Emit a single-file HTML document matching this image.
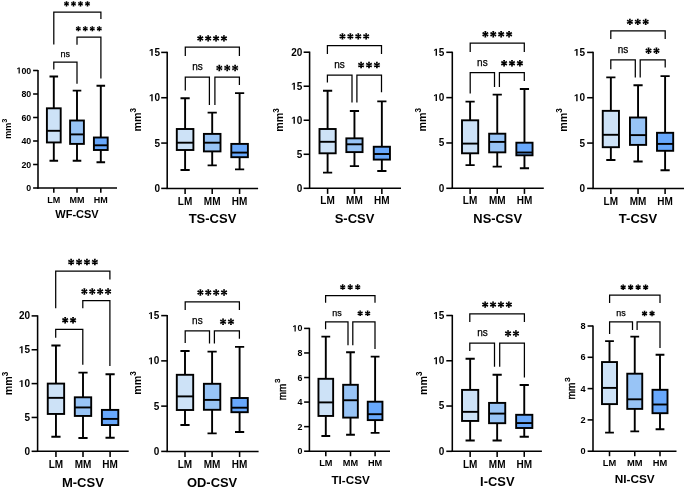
<!DOCTYPE html>
<html><head><meta charset="utf-8"><style>
html,body{margin:0;padding:0;background:#fff;}
svg{display:block;font-family:"Liberation Sans",sans-serif;will-change:transform;}
</style></head><body>
<svg width="685" height="488" viewBox="0 0 685 488">
<rect width="685" height="488" fill="#fff"/>
<path d="M38 69.9V188.7" stroke="#000" stroke-width="1.55" fill="none"/>
<path d="M37.3 188H117" stroke="#000" stroke-width="1.55" fill="none"/>
<path d="M33.1 188H38" stroke="#000" stroke-width="1.55"/>
<text x="26.31" y="191.04" font-size="8.8" font-weight="bold">0</text>
<path d="M33.1 164.5H38" stroke="#000" stroke-width="1.55"/>
<text x="21.41" y="167.54" font-size="8.8" font-weight="bold">2</text><text x="26.31" y="167.54" font-size="8.8" font-weight="bold">0</text>
<path d="M33.1 141H38" stroke="#000" stroke-width="1.55"/>
<text x="21.41" y="144.04" font-size="8.8" font-weight="bold">4</text><text x="26.31" y="144.04" font-size="8.8" font-weight="bold">0</text>
<path d="M33.1 117.5H38" stroke="#000" stroke-width="1.55"/>
<text x="21.41" y="120.54" font-size="8.8" font-weight="bold">6</text><text x="26.31" y="120.54" font-size="8.8" font-weight="bold">0</text>
<path d="M33.1 94H38" stroke="#000" stroke-width="1.55"/>
<text x="21.41" y="97.04" font-size="8.8" font-weight="bold">8</text><text x="26.31" y="97.04" font-size="8.8" font-weight="bold">0</text>
<path d="M33.1 70.5H38" stroke="#000" stroke-width="1.55"/>
<polygon points="18.57,73.54 19.78,73.54 19.78,67.48 18.64,67.48 17.12,68.47 17.12,69.42 18.57,68.51" fill="#000"/><text x="21.41" y="73.54" font-size="8.8" font-weight="bold">0</text><text x="26.31" y="73.54" font-size="8.8" font-weight="bold">0</text>
<path d="M53.8 188V192.7" stroke="#000" stroke-width="1.55"/>
<text x="53.8" y="202.5" font-size="9" font-weight="bold" text-anchor="middle">LM</text>
<path d="M77 188V192.7" stroke="#000" stroke-width="1.55"/>
<text x="77" y="202.5" font-size="9" font-weight="bold" text-anchor="middle">MM</text>
<path d="M100.8 188V192.7" stroke="#000" stroke-width="1.55"/>
<text x="100.8" y="202.5" font-size="9" font-weight="bold" text-anchor="middle">HM</text>
<path d="M53.8 76.5V108.3M53.8 142.45V160.7M49.5 76.5H58.1M49.5 160.7H58.1" stroke="#000" stroke-width="1.9" fill="none"/>
<rect x="46.9" y="108.3" width="13.8" height="34.15" fill="#cde2f7" stroke="#000" stroke-width="1.9"/>
<path d="M46.9 130.8H60.7" stroke="#000" stroke-width="1.9"/>
<path d="M77 90.6V120.5M77 143.9V160.7M72.7 90.6H81.3M72.7 160.7H81.3" stroke="#000" stroke-width="1.9" fill="none"/>
<rect x="70.1" y="120.5" width="13.8" height="23.4" fill="#98c4f6" stroke="#000" stroke-width="1.9"/>
<path d="M70.1 134.4H83.9" stroke="#000" stroke-width="1.9"/>
<path d="M100.8 85.8V137.5M100.8 150V162.2M96.5 85.8H105.1M96.5 162.2H105.1" stroke="#000" stroke-width="1.9" fill="none"/>
<rect x="93.9" y="137.5" width="13.8" height="12.5" fill="#68a8fc" stroke="#000" stroke-width="1.9"/>
<path d="M93.9 145.3H107.7" stroke="#000" stroke-width="1.9"/>
<path d="M53.8 44.6V12H100.9V18.9" stroke="#000" stroke-width="1.25" fill="none"/>
<path d="M66.84 3.85L67.36 1.3L65.64 1.3L66.16 3.85ZM66.67 3.56L64.72 1.83L63.86 3.32L66.33 4.14ZM66.33 3.56L63.86 4.38L64.72 5.87L66.67 4.14ZM66.16 3.85L65.64 6.4L67.36 6.4L66.84 3.85ZM66.33 4.14L68.28 5.87L69.14 4.38L66.67 3.56ZM66.67 4.14L69.14 3.32L68.28 1.83L66.33 3.56ZM73.84 3.85L74.36 1.3L72.64 1.3L73.16 3.85ZM73.67 3.56L71.72 1.83L70.86 3.32L73.33 4.14ZM73.33 3.56L70.86 4.38L71.72 5.87L73.67 4.14ZM73.16 3.85L72.64 6.4L74.36 6.4L73.84 3.85ZM73.33 4.14L75.28 5.87L76.14 4.38L73.67 3.56ZM73.67 4.14L76.14 3.32L75.28 1.83L73.33 3.56ZM80.84 3.85L81.36 1.3L79.64 1.3L80.16 3.85ZM80.67 3.56L78.72 1.83L77.86 3.32L80.33 4.14ZM80.33 3.56L77.86 4.38L78.72 5.87L80.67 4.14ZM80.16 3.85L79.64 6.4L81.36 6.4L80.84 3.85ZM80.33 4.14L82.28 5.87L83.14 4.38L80.67 3.56ZM80.67 4.14L83.14 3.32L82.28 1.83L80.33 3.56ZM87.84 3.85L88.36 1.3L86.64 1.3L87.16 3.85ZM87.67 3.56L85.72 1.83L84.86 3.32L87.33 4.14ZM87.33 3.56L84.86 4.38L85.72 5.87L87.67 4.14ZM87.16 3.85L86.64 6.4L88.36 6.4L87.84 3.85ZM87.33 4.14L89.28 5.87L90.14 4.38L87.67 3.56ZM87.67 4.14L90.14 3.32L89.28 1.83L87.33 3.56Z" fill="#000"/>
<path d="M77 44.7V37.2H100.9V78.6" stroke="#000" stroke-width="1.25" fill="none"/>
<path d="M78.64 28.7L79.16 26.15L77.44 26.15L77.96 28.7ZM78.47 28.41L76.52 26.68L75.66 28.17L78.13 28.99ZM78.13 28.41L75.66 29.23L76.52 30.72L78.47 28.99ZM77.96 28.7L77.44 31.25L79.16 31.25L78.64 28.7ZM78.13 28.99L80.08 30.72L80.94 29.23L78.47 28.41ZM78.47 28.99L80.94 28.17L80.08 26.68L78.13 28.41ZM85.64 28.7L86.16 26.15L84.44 26.15L84.96 28.7ZM85.47 28.41L83.52 26.68L82.66 28.17L85.13 28.99ZM85.13 28.41L82.66 29.23L83.52 30.72L85.47 28.99ZM84.96 28.7L84.44 31.25L86.16 31.25L85.64 28.7ZM85.13 28.99L87.08 30.72L87.94 29.23L85.47 28.41ZM85.47 28.99L87.94 28.17L87.08 26.68L85.13 28.41ZM92.64 28.7L93.16 26.15L91.44 26.15L91.96 28.7ZM92.47 28.41L90.52 26.68L89.66 28.17L92.13 28.99ZM92.13 28.41L89.66 29.23L90.52 30.72L92.47 28.99ZM91.96 28.7L91.44 31.25L93.16 31.25L92.64 28.7ZM92.13 28.99L94.08 30.72L94.94 29.23L92.47 28.41ZM92.47 28.99L94.94 28.17L94.08 26.68L92.13 28.41ZM99.64 28.7L100.16 26.15L98.44 26.15L98.96 28.7ZM99.47 28.41L97.52 26.68L96.66 28.17L99.13 28.99ZM99.13 28.41L96.66 29.23L97.52 30.72L99.47 28.99ZM98.96 28.7L98.44 31.25L100.16 31.25L99.64 28.7ZM99.13 28.99L101.08 30.72L101.94 29.23L99.47 28.41ZM99.47 28.99L101.94 28.17L101.08 26.68L99.13 28.41Z" fill="#000"/>
<path d="M53.8 69.5V62.1H77V83.7" stroke="#000" stroke-width="1.25" fill="none"/>
<text x="65.3" y="56.5" font-size="9" text-anchor="middle" stroke="#000" stroke-width="0.25">ns</text>
<text x="77" y="218.3" font-size="11" font-weight="bold" text-anchor="middle">WF-CSV</text>
<text transform="translate(10.7 128.75) rotate(-90)" font-size="9" font-weight="bold" text-anchor="middle">mm<tspan font-size="7.3" dx="0" dy="-3.9">3</tspan></text>
<path d="M167.2 51.8V189.1" stroke="#000" stroke-width="1.55" fill="none"/>
<path d="M166.5 188.4H258.1" stroke="#000" stroke-width="1.55" fill="none"/>
<path d="M161.2 188.4H167.2" stroke="#000" stroke-width="1.55"/>
<text x="154.54" y="191.85" font-size="10" font-weight="bold">0</text>
<path d="M161.2 143.07H167.2" stroke="#000" stroke-width="1.55"/>
<text x="154.54" y="146.52" font-size="10" font-weight="bold">5</text>
<path d="M161.2 97.73H167.2" stroke="#000" stroke-width="1.55"/>
<polygon points="151.31,101.18 152.68,101.18 152.68,94.3 151.38,94.3 149.66,95.42 149.66,96.5 151.31,95.47" fill="#000"/><text x="154.54" y="101.18" font-size="10" font-weight="bold">0</text>
<path d="M161.2 52.4H167.2" stroke="#000" stroke-width="1.55"/>
<polygon points="151.31,55.85 152.68,55.85 152.68,48.97 151.38,48.97 149.66,50.09 149.66,51.17 151.31,50.14" fill="#000"/><text x="154.54" y="55.85" font-size="10" font-weight="bold">5</text>
<path d="M185.1 188.4V194" stroke="#000" stroke-width="1.55"/>
<text x="185.1" y="204.5" font-size="10" font-weight="bold" text-anchor="middle">LM</text>
<path d="M212.2 188.4V194" stroke="#000" stroke-width="1.55"/>
<text x="212.2" y="204.5" font-size="10" font-weight="bold" text-anchor="middle">MM</text>
<path d="M239.6 188.4V194" stroke="#000" stroke-width="1.55"/>
<text x="239.6" y="204.5" font-size="10" font-weight="bold" text-anchor="middle">HM</text>
<path d="M185.1 98.2V129M185.1 150V170M180.5 98.2H189.7M180.5 170H189.7" stroke="#000" stroke-width="1.9" fill="none"/>
<rect x="176.8" y="129" width="16.6" height="21" fill="#cde2f7" stroke="#000" stroke-width="1.9"/>
<path d="M176.8 142.7H193.4" stroke="#000" stroke-width="1.9"/>
<path d="M212.2 112.6V133.9M212.2 151.4V165.4M207.6 112.6H216.8M207.6 165.4H216.8" stroke="#000" stroke-width="1.9" fill="none"/>
<rect x="203.9" y="133.9" width="16.6" height="17.5" fill="#98c4f6" stroke="#000" stroke-width="1.9"/>
<path d="M203.9 142.7H220.5" stroke="#000" stroke-width="1.9"/>
<path d="M239.6 93.1V143.9M239.6 157.2V169.4M235 93.1H244.2M235 169.4H244.2" stroke="#000" stroke-width="1.9" fill="none"/>
<rect x="231.3" y="143.9" width="16.6" height="13.3" fill="#68a8fc" stroke="#000" stroke-width="1.9"/>
<path d="M231.3 152.6H247.9" stroke="#000" stroke-width="1.9"/>
<path d="M185.3 56.1V47.2H239.4V56.1" stroke="#000" stroke-width="1.25" fill="none"/>
<path d="M200.64 38.4L201.26 35.2L199.24 35.2L199.86 38.4ZM200.45 38.06L197.98 35.93L196.98 37.67L200.05 38.74ZM200.05 38.06L196.98 39.13L197.98 40.87L200.45 38.74ZM199.86 38.4L199.24 41.6L201.26 41.6L200.64 38.4ZM200.05 38.74L202.52 40.87L203.52 39.13L200.45 38.06ZM200.45 38.74L203.52 37.67L202.52 35.93L200.05 38.06ZM208.54 38.4L209.16 35.2L207.14 35.2L207.76 38.4ZM208.35 38.06L205.88 35.93L204.88 37.67L207.95 38.74ZM207.95 38.06L204.88 39.13L205.88 40.87L208.35 38.74ZM207.76 38.4L207.14 41.6L209.16 41.6L208.54 38.4ZM207.95 38.74L210.42 40.87L211.42 39.13L208.35 38.06ZM208.35 38.74L211.42 37.67L210.42 35.93L207.95 38.06ZM216.44 38.4L217.06 35.2L215.04 35.2L215.66 38.4ZM216.25 38.06L213.78 35.93L212.78 37.67L215.85 38.74ZM215.85 38.06L212.78 39.13L213.78 40.87L216.25 38.74ZM215.66 38.4L215.04 41.6L217.06 41.6L216.44 38.4ZM215.85 38.74L218.32 40.87L219.32 39.13L216.25 38.06ZM216.25 38.74L219.32 37.67L218.32 35.93L215.85 38.06ZM224.34 38.4L224.96 35.2L222.94 35.2L223.56 38.4ZM224.15 38.06L221.68 35.93L220.68 37.67L223.75 38.74ZM223.75 38.06L220.68 39.13L221.68 40.87L224.15 38.74ZM223.56 38.4L222.94 41.6L224.96 41.6L224.34 38.4ZM223.75 38.74L226.22 40.87L227.22 39.13L224.15 38.06ZM224.15 38.74L227.22 37.67L226.22 35.93L223.75 38.06Z" fill="#000"/>
<path d="M185.3 90.5V77H209.4V104.9" stroke="#000" stroke-width="1.25" fill="none"/>
<text x="197.45" y="70" font-size="10" text-anchor="middle" stroke="#000" stroke-width="0.25">ns</text>
<path d="M214.9 104.9V77H239.4V85.1" stroke="#000" stroke-width="1.25" fill="none"/>
<path d="M219.69 68L220.31 64.8L218.29 64.8L218.91 68ZM219.5 67.66L217.03 65.53L216.03 67.27L219.1 68.34ZM219.1 67.66L216.03 68.73L217.03 70.47L219.5 68.34ZM218.91 68L218.29 71.2L220.31 71.2L219.69 68ZM219.1 68.34L221.57 70.47L222.57 68.73L219.5 67.66ZM219.5 68.34L222.57 67.27L221.57 65.53L219.1 67.66ZM227.59 68L228.21 64.8L226.19 64.8L226.81 68ZM227.4 67.66L224.93 65.53L223.93 67.27L227 68.34ZM227 67.66L223.93 68.73L224.93 70.47L227.4 68.34ZM226.81 68L226.19 71.2L228.21 71.2L227.59 68ZM227 68.34L229.47 70.47L230.47 68.73L227.4 67.66ZM227.4 68.34L230.47 67.27L229.47 65.53L227 67.66ZM235.49 68L236.11 64.8L234.09 64.8L234.71 68ZM235.3 67.66L232.83 65.53L231.83 67.27L234.9 68.34ZM234.9 67.66L231.83 68.73L232.83 70.47L235.3 68.34ZM234.71 68L234.09 71.2L236.11 71.2L235.49 68ZM234.9 68.34L237.37 70.47L238.37 68.73L235.3 67.66ZM235.3 68.34L238.37 67.27L237.37 65.53L234.9 67.66Z" fill="#000"/>
<text x="212.5" y="223.4" font-size="13" font-weight="bold" text-anchor="middle">TS-CSV</text>
<text transform="translate(141.1 119.7) rotate(-90)" font-size="10.7" font-weight="bold" text-anchor="middle">mm<tspan font-size="8.2" dx="0" dy="-4.75">3</tspan></text>
<path d="M309.6 51.6V189" stroke="#000" stroke-width="1.55" fill="none"/>
<path d="M308.9 188.3H401" stroke="#000" stroke-width="1.55" fill="none"/>
<path d="M303.6 188.3H309.6" stroke="#000" stroke-width="1.55"/>
<text x="296.74" y="191.75" font-size="10" font-weight="bold">0</text>
<path d="M303.6 154.28H309.6" stroke="#000" stroke-width="1.55"/>
<text x="296.74" y="157.72" font-size="10" font-weight="bold">5</text>
<path d="M303.6 120.25H309.6" stroke="#000" stroke-width="1.55"/>
<polygon points="293.51,123.7 294.88,123.7 294.88,116.82 293.58,116.82 291.86,117.94 291.86,119.02 293.51,117.99" fill="#000"/><text x="296.74" y="123.7" font-size="10" font-weight="bold">0</text>
<path d="M303.6 86.22H309.6" stroke="#000" stroke-width="1.55"/>
<polygon points="293.51,89.67 294.88,89.67 294.88,82.8 293.58,82.8 291.86,83.91 291.86,84.99 293.51,83.96" fill="#000"/><text x="296.74" y="89.67" font-size="10" font-weight="bold">5</text>
<path d="M303.6 52.2H309.6" stroke="#000" stroke-width="1.55"/>
<text x="291.18" y="55.65" font-size="10" font-weight="bold">2</text><text x="296.74" y="55.65" font-size="10" font-weight="bold">0</text>
<path d="M327.6 188.3V193.9" stroke="#000" stroke-width="1.55"/>
<text x="327.6" y="204.4" font-size="10" font-weight="bold" text-anchor="middle">LM</text>
<path d="M354.45 188.3V193.9" stroke="#000" stroke-width="1.55"/>
<text x="354.45" y="204.4" font-size="10" font-weight="bold" text-anchor="middle">MM</text>
<path d="M381.85 188.3V193.9" stroke="#000" stroke-width="1.55"/>
<text x="381.85" y="204.4" font-size="10" font-weight="bold" text-anchor="middle">HM</text>
<path d="M327.6 90.7V129M327.6 153.3V172.6M323 90.7H332.2M323 172.6H332.2" stroke="#000" stroke-width="1.9" fill="none"/>
<rect x="319.5" y="129" width="16.2" height="24.3" fill="#cde2f7" stroke="#000" stroke-width="1.9"/>
<path d="M319.5 141.8H335.7" stroke="#000" stroke-width="1.9"/>
<path d="M354.45 111V138.35M354.45 152.1V166.1M349.85 111H359.05M349.85 166.1H359.05" stroke="#000" stroke-width="1.9" fill="none"/>
<rect x="346.35" y="138.35" width="16.2" height="13.75" fill="#98c4f6" stroke="#000" stroke-width="1.9"/>
<path d="M346.35 144.3H362.55" stroke="#000" stroke-width="1.9"/>
<path d="M381.85 101.4V146.75M381.85 159.6V170.95M377.25 101.4H386.45M377.25 170.95H386.45" stroke="#000" stroke-width="1.9" fill="none"/>
<rect x="373.75" y="146.75" width="16.2" height="12.85" fill="#68a8fc" stroke="#000" stroke-width="1.9"/>
<path d="M373.75 154H389.95" stroke="#000" stroke-width="1.9"/>
<path d="M327.4 54V45.7H381.5V54" stroke="#000" stroke-width="1.25" fill="none"/>
<path d="M342.84 36.35L343.46 33.15L341.44 33.15L342.06 36.35ZM342.65 36.01L340.18 33.88L339.18 35.62L342.25 36.69ZM342.25 36.01L339.18 37.08L340.18 38.82L342.65 36.69ZM342.06 36.35L341.44 39.55L343.46 39.55L342.84 36.35ZM342.25 36.69L344.72 38.82L345.72 37.08L342.65 36.01ZM342.65 36.69L345.72 35.62L344.72 33.88L342.25 36.01ZM350.74 36.35L351.36 33.15L349.34 33.15L349.96 36.35ZM350.55 36.01L348.08 33.88L347.08 35.62L350.15 36.69ZM350.15 36.01L347.08 37.08L348.08 38.82L350.55 36.69ZM349.96 36.35L349.34 39.55L351.36 39.55L350.74 36.35ZM350.15 36.69L352.62 38.82L353.62 37.08L350.55 36.01ZM350.55 36.69L353.62 35.62L352.62 33.88L350.15 36.01ZM358.64 36.35L359.26 33.15L357.24 33.15L357.86 36.35ZM358.45 36.01L355.98 33.88L354.98 35.62L358.05 36.69ZM358.05 36.01L354.98 37.08L355.98 38.82L358.45 36.69ZM357.86 36.35L357.24 39.55L359.26 39.55L358.64 36.35ZM358.05 36.69L360.52 38.82L361.52 37.08L358.45 36.01ZM358.45 36.69L361.52 35.62L360.52 33.88L358.05 36.01ZM366.54 36.35L367.16 33.15L365.14 33.15L365.76 36.35ZM366.35 36.01L363.88 33.88L362.88 35.62L365.95 36.69ZM365.95 36.01L362.88 37.08L363.88 38.82L366.35 36.69ZM365.76 36.35L365.14 39.55L367.16 39.55L366.54 36.35ZM365.95 36.69L368.42 38.82L369.42 37.08L366.35 36.01ZM366.35 36.69L369.42 35.62L368.42 33.88L365.95 36.01Z" fill="#000"/>
<path d="M327.4 82.4V75.05H352V102.4" stroke="#000" stroke-width="1.25" fill="none"/>
<text x="339.6" y="67.9" font-size="10" text-anchor="middle" stroke="#000" stroke-width="0.25">ns</text>
<path d="M356.9 102.4V75.05H381.5V92.2" stroke="#000" stroke-width="1.25" fill="none"/>
<path d="M361.49 65.05L362.11 61.85L360.09 61.85L360.71 65.05ZM361.3 64.71L358.83 62.58L357.83 64.32L360.9 65.39ZM360.9 64.71L357.83 65.78L358.83 67.52L361.3 65.39ZM360.71 65.05L360.09 68.25L362.11 68.25L361.49 65.05ZM360.9 65.39L363.37 67.52L364.37 65.78L361.3 64.71ZM361.3 65.39L364.37 64.32L363.37 62.58L360.9 64.71ZM369.39 65.05L370.01 61.85L367.99 61.85L368.61 65.05ZM369.2 64.71L366.73 62.58L365.73 64.32L368.8 65.39ZM368.8 64.71L365.73 65.78L366.73 67.52L369.2 65.39ZM368.61 65.05L367.99 68.25L370.01 68.25L369.39 65.05ZM368.8 65.39L371.27 67.52L372.27 65.78L369.2 64.71ZM369.2 65.39L372.27 64.32L371.27 62.58L368.8 64.71ZM377.29 65.05L377.91 61.85L375.89 61.85L376.51 65.05ZM377.1 64.71L374.63 62.58L373.63 64.32L376.7 65.39ZM376.7 64.71L373.63 65.78L374.63 67.52L377.1 65.39ZM376.51 65.05L375.89 68.25L377.91 68.25L377.29 65.05ZM376.7 65.39L379.17 67.52L380.17 65.78L377.1 64.71ZM377.1 65.39L380.17 64.32L379.17 62.58L376.7 64.71Z" fill="#000"/>
<text x="354.5" y="223.3" font-size="13" font-weight="bold" text-anchor="middle">S-CSV</text>
<text transform="translate(283.3 119.9) rotate(-90)" font-size="10.7" font-weight="bold" text-anchor="middle">mm<tspan font-size="8.2" dx="0" dy="-4.75">3</tspan></text>
<path d="M452.3 51.7V189" stroke="#000" stroke-width="1.55" fill="none"/>
<path d="M451.6 188.3H543.8" stroke="#000" stroke-width="1.55" fill="none"/>
<path d="M446.3 188.3H452.3" stroke="#000" stroke-width="1.55"/>
<text x="438.84" y="191.75" font-size="10" font-weight="bold">0</text>
<path d="M446.3 142.97H452.3" stroke="#000" stroke-width="1.55"/>
<text x="438.84" y="146.42" font-size="10" font-weight="bold">5</text>
<path d="M446.3 97.63H452.3" stroke="#000" stroke-width="1.55"/>
<polygon points="435.61,101.08 436.98,101.08 436.98,94.2 435.68,94.2 433.96,95.32 433.96,96.4 435.61,95.37" fill="#000"/><text x="438.84" y="101.08" font-size="10" font-weight="bold">0</text>
<path d="M446.3 52.3H452.3" stroke="#000" stroke-width="1.55"/>
<polygon points="435.61,55.75 436.98,55.75 436.98,48.87 435.68,48.87 433.96,49.99 433.96,51.07 435.61,50.04" fill="#000"/><text x="438.84" y="55.75" font-size="10" font-weight="bold">5</text>
<path d="M470.1 188.3V193.9" stroke="#000" stroke-width="1.55"/>
<text x="470.1" y="204.4" font-size="10" font-weight="bold" text-anchor="middle">LM</text>
<path d="M497.25 188.3V193.9" stroke="#000" stroke-width="1.55"/>
<text x="497.25" y="204.4" font-size="10" font-weight="bold" text-anchor="middle">MM</text>
<path d="M524.45 188.3V193.9" stroke="#000" stroke-width="1.55"/>
<text x="524.45" y="204.4" font-size="10" font-weight="bold" text-anchor="middle">HM</text>
<path d="M470.1 101.6V120.3M470.1 153.3V165.1M465.5 101.6H474.7M465.5 165.1H474.7" stroke="#000" stroke-width="1.9" fill="none"/>
<rect x="462" y="120.3" width="16.2" height="33" fill="#cde2f7" stroke="#000" stroke-width="1.9"/>
<path d="M462 143.6H478.2" stroke="#000" stroke-width="1.9"/>
<path d="M497.25 94.6V133.7M497.25 152.35V166.6M492.65 94.6H501.85M492.65 166.6H501.85" stroke="#000" stroke-width="1.9" fill="none"/>
<rect x="489.15" y="133.7" width="16.2" height="18.65" fill="#98c4f6" stroke="#000" stroke-width="1.9"/>
<path d="M489.15 141.9H505.35" stroke="#000" stroke-width="1.9"/>
<path d="M524.45 89V142.7M524.45 155.3V168.3M519.85 89H529.05M519.85 168.3H529.05" stroke="#000" stroke-width="1.9" fill="none"/>
<rect x="516.35" y="142.7" width="16.2" height="12.6" fill="#68a8fc" stroke="#000" stroke-width="1.9"/>
<path d="M516.35 152.5H532.55" stroke="#000" stroke-width="1.9"/>
<path d="M470.2 52V43.2H524.3V52" stroke="#000" stroke-width="1.25" fill="none"/>
<path d="M485.74 34.2L486.36 31L484.34 31L484.96 34.2ZM485.55 33.86L483.08 31.73L482.08 33.47L485.15 34.54ZM485.15 33.86L482.08 34.93L483.08 36.67L485.55 34.54ZM484.96 34.2L484.34 37.4L486.36 37.4L485.74 34.2ZM485.15 34.54L487.62 36.67L488.62 34.93L485.55 33.86ZM485.55 34.54L488.62 33.47L487.62 31.73L485.15 33.86ZM493.64 34.2L494.26 31L492.24 31L492.86 34.2ZM493.45 33.86L490.98 31.73L489.98 33.47L493.05 34.54ZM493.05 33.86L489.98 34.93L490.98 36.67L493.45 34.54ZM492.86 34.2L492.24 37.4L494.26 37.4L493.64 34.2ZM493.05 34.54L495.52 36.67L496.52 34.93L493.45 33.86ZM493.45 34.54L496.52 33.47L495.52 31.73L493.05 33.86ZM501.54 34.2L502.16 31L500.14 31L500.76 34.2ZM501.35 33.86L498.88 31.73L497.88 33.47L500.95 34.54ZM500.95 33.86L497.88 34.93L498.88 36.67L501.35 34.54ZM500.76 34.2L500.14 37.4L502.16 37.4L501.54 34.2ZM500.95 34.54L503.42 36.67L504.42 34.93L501.35 33.86ZM501.35 34.54L504.42 33.47L503.42 31.73L500.95 33.86ZM509.44 34.2L510.06 31L508.04 31L508.66 34.2ZM509.25 33.86L506.78 31.73L505.78 33.47L508.85 34.54ZM508.85 33.86L505.78 34.93L506.78 36.67L509.25 34.54ZM508.66 34.2L508.04 37.4L510.06 37.4L509.44 34.2ZM508.85 34.54L511.32 36.67L512.32 34.93L509.25 33.86ZM509.25 34.54L512.32 33.47L511.32 31.73L508.85 33.86Z" fill="#000"/>
<path d="M470.2 93.5V72.7H494.5V87" stroke="#000" stroke-width="1.25" fill="none"/>
<text x="482.4" y="65.9" font-size="10" text-anchor="middle" stroke="#000" stroke-width="0.25">ns</text>
<path d="M499.4 87V72.7H524.3V80.9" stroke="#000" stroke-width="1.25" fill="none"/>
<path d="M504.49 63.2L505.11 60L503.09 60L503.71 63.2ZM504.3 62.86L501.83 60.73L500.83 62.47L503.9 63.54ZM503.9 62.86L500.83 63.93L501.83 65.67L504.3 63.54ZM503.71 63.2L503.09 66.4L505.11 66.4L504.49 63.2ZM503.9 63.54L506.37 65.67L507.37 63.93L504.3 62.86ZM504.3 63.54L507.37 62.47L506.37 60.73L503.9 62.86ZM512.39 63.2L513.01 60L510.99 60L511.61 63.2ZM512.2 62.86L509.73 60.73L508.73 62.47L511.8 63.54ZM511.8 62.86L508.73 63.93L509.73 65.67L512.2 63.54ZM511.61 63.2L510.99 66.4L513.01 66.4L512.39 63.2ZM511.8 63.54L514.27 65.67L515.27 63.93L512.2 62.86ZM512.2 63.54L515.27 62.47L514.27 60.73L511.8 62.86ZM520.29 63.2L520.91 60L518.89 60L519.51 63.2ZM520.1 62.86L517.63 60.73L516.63 62.47L519.7 63.54ZM519.7 62.86L516.63 63.93L517.63 65.67L520.1 63.54ZM519.51 63.2L518.89 66.4L520.91 66.4L520.29 63.2ZM519.7 63.54L522.17 65.67L523.17 63.93L520.1 62.86ZM520.1 63.54L523.17 62.47L522.17 60.73L519.7 62.86Z" fill="#000"/>
<text x="497.7" y="223.1" font-size="12.9" font-weight="bold" text-anchor="middle">NS-CSV</text>
<text transform="translate(426 119.7) rotate(-90)" font-size="10.7" font-weight="bold" text-anchor="middle">mm<tspan font-size="8.2" dx="0" dy="-4.75">3</tspan></text>
<path d="M593.1 51.8V189.1" stroke="#000" stroke-width="1.55" fill="none"/>
<path d="M592.4 188.4H684" stroke="#000" stroke-width="1.55" fill="none"/>
<path d="M587.1 188.4H593.1" stroke="#000" stroke-width="1.55"/>
<text x="579.44" y="191.85" font-size="10" font-weight="bold">0</text>
<path d="M587.1 143.07H593.1" stroke="#000" stroke-width="1.55"/>
<text x="579.44" y="146.52" font-size="10" font-weight="bold">5</text>
<path d="M587.1 97.73H593.1" stroke="#000" stroke-width="1.55"/>
<polygon points="576.21,101.18 577.58,101.18 577.58,94.3 576.28,94.3 574.56,95.42 574.56,96.5 576.21,95.47" fill="#000"/><text x="579.44" y="101.18" font-size="10" font-weight="bold">0</text>
<path d="M587.1 52.4H593.1" stroke="#000" stroke-width="1.55"/>
<polygon points="576.21,55.85 577.58,55.85 577.58,48.97 576.28,48.97 574.56,50.09 574.56,51.17 576.21,50.14" fill="#000"/><text x="579.44" y="55.85" font-size="10" font-weight="bold">5</text>
<path d="M610.85 188.4V194" stroke="#000" stroke-width="1.55"/>
<text x="610.85" y="204.5" font-size="10" font-weight="bold" text-anchor="middle">LM</text>
<path d="M638.05 188.4V194" stroke="#000" stroke-width="1.55"/>
<text x="638.05" y="204.5" font-size="10" font-weight="bold" text-anchor="middle">MM</text>
<path d="M665.1 188.4V194" stroke="#000" stroke-width="1.55"/>
<text x="665.1" y="204.5" font-size="10" font-weight="bold" text-anchor="middle">HM</text>
<path d="M610.85 77.4V110.85M610.85 147.2V159.95M606.25 77.4H615.45M606.25 159.95H615.45" stroke="#000" stroke-width="1.9" fill="none"/>
<rect x="602.75" y="110.85" width="16.2" height="36.35" fill="#cde2f7" stroke="#000" stroke-width="1.9"/>
<path d="M602.75 134.8H618.95" stroke="#000" stroke-width="1.9"/>
<path d="M638.05 85.2V117.5M638.05 144.9V161.45M633.45 85.2H642.65M633.45 161.45H642.65" stroke="#000" stroke-width="1.9" fill="none"/>
<rect x="629.95" y="117.5" width="16.2" height="27.4" fill="#98c4f6" stroke="#000" stroke-width="1.9"/>
<path d="M629.95 135.1H646.15" stroke="#000" stroke-width="1.9"/>
<path d="M665.1 76.1V132.8M665.1 150.8V170.2M660.5 76.1H669.7M660.5 170.2H669.7" stroke="#000" stroke-width="1.9" fill="none"/>
<rect x="657" y="132.8" width="16.2" height="18" fill="#68a8fc" stroke="#000" stroke-width="1.9"/>
<path d="M657 143.9H673.2" stroke="#000" stroke-width="1.9"/>
<path d="M610.8 38.9V30.85H665.2V38.9" stroke="#000" stroke-width="1.25" fill="none"/>
<path d="M630.29 21.85L630.91 18.65L628.89 18.65L629.51 21.85ZM630.1 21.51L627.63 19.38L626.63 21.12L629.7 22.19ZM629.7 21.51L626.63 22.58L627.63 24.32L630.1 22.19ZM629.51 21.85L628.89 25.05L630.91 25.05L630.29 21.85ZM629.7 22.19L632.17 24.32L633.17 22.58L630.1 21.51ZM630.1 22.19L633.17 21.12L632.17 19.38L629.7 21.51ZM638.19 21.85L638.81 18.65L636.79 18.65L637.41 21.85ZM638 21.51L635.53 19.38L634.53 21.12L637.6 22.19ZM637.6 21.51L634.53 22.58L635.53 24.32L638 22.19ZM637.41 21.85L636.79 25.05L638.81 25.05L638.19 21.85ZM637.6 22.19L640.07 24.32L641.07 22.58L638 21.51ZM638 22.19L641.07 21.12L640.07 19.38L637.6 21.51ZM646.09 21.85L646.71 18.65L644.69 18.65L645.31 21.85ZM645.9 21.51L643.43 19.38L642.43 21.12L645.5 22.19ZM645.5 21.51L642.43 22.58L643.43 24.32L645.9 22.19ZM645.31 21.85L644.69 25.05L646.71 25.05L646.09 21.85ZM645.5 22.19L647.97 24.32L648.97 22.58L645.9 21.51ZM645.9 22.19L648.97 21.12L647.97 19.38L645.5 21.51Z" fill="#000"/>
<path d="M610.8 69.35V59.9H635.3V77.55" stroke="#000" stroke-width="1.25" fill="none"/>
<text x="623.1" y="52.7" font-size="10" text-anchor="middle" stroke="#000" stroke-width="0.25">ns</text>
<path d="M640.2 77.55V59.9H665.2V67.55" stroke="#000" stroke-width="1.25" fill="none"/>
<path d="M648.94 50.75L649.56 47.55L647.54 47.55L648.16 50.75ZM648.75 50.41L646.28 48.28L645.28 50.02L648.35 51.09ZM648.35 50.41L645.28 51.48L646.28 53.22L648.75 51.09ZM648.16 50.75L647.54 53.95L649.56 53.95L648.94 50.75ZM648.35 51.09L650.82 53.22L651.82 51.48L648.75 50.41ZM648.75 51.09L651.82 50.02L650.82 48.28L648.35 50.41ZM656.84 50.75L657.46 47.55L655.44 47.55L656.06 50.75ZM656.65 50.41L654.18 48.28L653.18 50.02L656.25 51.09ZM656.25 50.41L653.18 51.48L654.18 53.22L656.65 51.09ZM656.06 50.75L655.44 53.95L657.46 53.95L656.84 50.75ZM656.25 51.09L658.72 53.22L659.72 51.48L656.65 50.41ZM656.65 51.09L659.72 50.02L658.72 48.28L656.25 50.41Z" fill="#000"/>
<text x="638" y="223.4" font-size="13" font-weight="bold" text-anchor="middle">T-CSV</text>
<text transform="translate(567.1 119.9) rotate(-90)" font-size="10.7" font-weight="bold" text-anchor="middle">mm<tspan font-size="8.2" dx="0" dy="-4.75">3</tspan></text>
<path d="M37.6 315.3V452" stroke="#000" stroke-width="1.55" fill="none"/>
<path d="M36.9 451.3H128.7" stroke="#000" stroke-width="1.55" fill="none"/>
<path d="M31.6 451.3H37.6" stroke="#000" stroke-width="1.55"/>
<text x="24.44" y="454.75" font-size="10" font-weight="bold">0</text>
<path d="M31.6 417.45H37.6" stroke="#000" stroke-width="1.55"/>
<text x="24.44" y="420.9" font-size="10" font-weight="bold">5</text>
<path d="M31.6 383.6H37.6" stroke="#000" stroke-width="1.55"/>
<polygon points="21.21,387.05 22.58,387.05 22.58,380.17 21.28,380.17 19.56,381.29 19.56,382.37 21.21,381.34" fill="#000"/><text x="24.44" y="387.05" font-size="10" font-weight="bold">0</text>
<path d="M31.6 349.75H37.6" stroke="#000" stroke-width="1.55"/>
<polygon points="21.21,353.2 22.58,353.2 22.58,346.32 21.28,346.32 19.56,347.44 19.56,348.52 21.21,347.49" fill="#000"/><text x="24.44" y="353.2" font-size="10" font-weight="bold">5</text>
<path d="M31.6 315.9H37.6" stroke="#000" stroke-width="1.55"/>
<text x="18.88" y="319.35" font-size="10" font-weight="bold">2</text><text x="24.44" y="319.35" font-size="10" font-weight="bold">0</text>
<path d="M55.95 451.3V456.9" stroke="#000" stroke-width="1.55"/>
<text x="55.95" y="468.3" font-size="10" font-weight="bold" text-anchor="middle">LM</text>
<path d="M83 451.3V456.9" stroke="#000" stroke-width="1.55"/>
<text x="83" y="468.3" font-size="10" font-weight="bold" text-anchor="middle">MM</text>
<path d="M110.1 451.3V456.9" stroke="#000" stroke-width="1.55"/>
<text x="110.1" y="468.3" font-size="10" font-weight="bold" text-anchor="middle">HM</text>
<path d="M55.95 345.5V383.6M55.95 413.95V436.7M51.35 345.5H60.55M51.35 436.7H60.55" stroke="#000" stroke-width="1.9" fill="none"/>
<rect x="47.75" y="383.6" width="16.4" height="30.35" fill="#cde2f7" stroke="#000" stroke-width="1.9"/>
<path d="M47.75 397.85H64.15" stroke="#000" stroke-width="1.9"/>
<path d="M83 372.6V397.3M83 415.95V438M78.4 372.6H87.6M78.4 438H87.6" stroke="#000" stroke-width="1.9" fill="none"/>
<rect x="74.8" y="397.3" width="16.4" height="18.65" fill="#98c4f6" stroke="#000" stroke-width="1.9"/>
<path d="M74.8 407.45H91.2" stroke="#000" stroke-width="1.9"/>
<path d="M110.1 374.3V409.9M110.1 425.05V437.7M105.5 374.3H114.7M105.5 437.7H114.7" stroke="#000" stroke-width="1.9" fill="none"/>
<rect x="101.9" y="409.9" width="16.4" height="15.15" fill="#68a8fc" stroke="#000" stroke-width="1.9"/>
<path d="M101.9 418.9H118.3" stroke="#000" stroke-width="1.9"/>
<path d="M55.7 308.3V271H109.9V279.6" stroke="#000" stroke-width="1.25" fill="none"/>
<path d="M71.54 262.05L72.16 258.85L70.14 258.85L70.76 262.05ZM71.35 261.71L68.88 259.58L67.88 261.32L70.95 262.39ZM70.95 261.71L67.88 262.78L68.88 264.52L71.35 262.39ZM70.76 262.05L70.14 265.25L72.16 265.25L71.54 262.05ZM70.95 262.39L73.42 264.52L74.42 262.78L71.35 261.71ZM71.35 262.39L74.42 261.32L73.42 259.58L70.95 261.71ZM79.44 262.05L80.06 258.85L78.04 258.85L78.66 262.05ZM79.25 261.71L76.78 259.58L75.78 261.32L78.85 262.39ZM78.85 261.71L75.78 262.78L76.78 264.52L79.25 262.39ZM78.66 262.05L78.04 265.25L80.06 265.25L79.44 262.05ZM78.85 262.39L81.32 264.52L82.32 262.78L79.25 261.71ZM79.25 262.39L82.32 261.32L81.32 259.58L78.85 261.71ZM87.34 262.05L87.96 258.85L85.94 258.85L86.56 262.05ZM87.15 261.71L84.68 259.58L83.68 261.32L86.75 262.39ZM86.75 261.71L83.68 262.78L84.68 264.52L87.15 262.39ZM86.56 262.05L85.94 265.25L87.96 265.25L87.34 262.05ZM86.75 262.39L89.22 264.52L90.22 262.78L87.15 261.71ZM87.15 262.39L90.22 261.32L89.22 259.58L86.75 261.71ZM95.24 262.05L95.86 258.85L93.84 258.85L94.46 262.05ZM95.05 261.71L92.58 259.58L91.58 261.32L94.65 262.39ZM94.65 261.71L91.58 262.78L92.58 264.52L95.05 262.39ZM94.46 262.05L93.84 265.25L95.86 265.25L95.24 262.05ZM94.65 262.39L97.12 264.52L98.12 262.78L95.05 261.71ZM95.05 262.39L98.12 261.32L97.12 259.58L94.65 261.71Z" fill="#000"/>
<path d="M82.8 308.3V300.5H109.9V366" stroke="#000" stroke-width="1.25" fill="none"/>
<path d="M84.74 291.5L85.36 288.3L83.34 288.3L83.96 291.5ZM84.55 291.16L82.08 289.03L81.08 290.77L84.15 291.84ZM84.15 291.16L81.08 292.23L82.08 293.97L84.55 291.84ZM83.96 291.5L83.34 294.7L85.36 294.7L84.74 291.5ZM84.15 291.84L86.62 293.97L87.62 292.23L84.55 291.16ZM84.55 291.84L87.62 290.77L86.62 289.03L84.15 291.16ZM92.64 291.5L93.26 288.3L91.24 288.3L91.86 291.5ZM92.45 291.16L89.98 289.03L88.98 290.77L92.05 291.84ZM92.05 291.16L88.98 292.23L89.98 293.97L92.45 291.84ZM91.86 291.5L91.24 294.7L93.26 294.7L92.64 291.5ZM92.05 291.84L94.52 293.97L95.52 292.23L92.45 291.16ZM92.45 291.84L95.52 290.77L94.52 289.03L92.05 291.16ZM100.54 291.5L101.16 288.3L99.14 288.3L99.76 291.5ZM100.35 291.16L97.88 289.03L96.88 290.77L99.95 291.84ZM99.95 291.16L96.88 292.23L97.88 293.97L100.35 291.84ZM99.76 291.5L99.14 294.7L101.16 294.7L100.54 291.5ZM99.95 291.84L102.42 293.97L103.42 292.23L100.35 291.16ZM100.35 291.84L103.42 290.77L102.42 289.03L99.95 291.16ZM108.44 291.5L109.06 288.3L107.04 288.3L107.66 291.5ZM108.25 291.16L105.78 289.03L104.78 290.77L107.85 291.84ZM107.85 291.16L104.78 292.23L105.78 293.97L108.25 291.84ZM107.66 291.5L107.04 294.7L109.06 294.7L108.44 291.5ZM107.85 291.84L110.32 293.97L111.32 292.23L108.25 291.16ZM108.25 291.84L111.32 290.77L110.32 289.03L107.85 291.16Z" fill="#000"/>
<path d="M55.7 337.7V329.4H82.8V364.8" stroke="#000" stroke-width="1.25" fill="none"/>
<path d="M65.54 320.2L66.16 317L64.14 317L64.76 320.2ZM65.35 319.86L62.88 317.73L61.88 319.47L64.95 320.54ZM64.95 319.86L61.88 320.93L62.88 322.67L65.35 320.54ZM64.76 320.2L64.14 323.4L66.16 323.4L65.54 320.2ZM64.95 320.54L67.42 322.67L68.42 320.93L65.35 319.86ZM65.35 320.54L68.42 319.47L67.42 317.73L64.95 319.86ZM73.44 320.2L74.06 317L72.04 317L72.66 320.2ZM73.25 319.86L70.78 317.73L69.78 319.47L72.85 320.54ZM72.85 319.86L69.78 320.93L70.78 322.67L73.25 320.54ZM72.66 320.2L72.04 323.4L74.06 323.4L73.44 320.2ZM72.85 320.54L75.32 322.67L76.32 320.93L73.25 319.86ZM73.25 320.54L76.32 319.47L75.32 317.73L72.85 319.86Z" fill="#000"/>
<text x="82.9" y="486.7" font-size="13" font-weight="bold" text-anchor="middle">M-CSV</text>
<text transform="translate(12.3 383.45) rotate(-90)" font-size="10.7" font-weight="bold" text-anchor="middle">mm<tspan font-size="8.2" dx="0" dy="-4.75">3</tspan></text>
<path d="M167.2 315V452.1" stroke="#000" stroke-width="1.55" fill="none"/>
<path d="M166.5 451.4H258.6" stroke="#000" stroke-width="1.55" fill="none"/>
<path d="M161.2 451.4H167.2" stroke="#000" stroke-width="1.55"/>
<text x="153.84" y="454.85" font-size="10" font-weight="bold">0</text>
<path d="M161.2 406.13H167.2" stroke="#000" stroke-width="1.55"/>
<text x="153.84" y="409.58" font-size="10" font-weight="bold">5</text>
<path d="M161.2 360.87H167.2" stroke="#000" stroke-width="1.55"/>
<polygon points="150.61,364.32 151.98,364.32 151.98,357.44 150.68,357.44 148.96,358.55 148.96,359.63 150.61,358.6" fill="#000"/><text x="153.84" y="364.32" font-size="10" font-weight="bold">0</text>
<path d="M161.2 315.6H167.2" stroke="#000" stroke-width="1.55"/>
<polygon points="150.61,319.05 151.98,319.05 151.98,312.17 150.68,312.17 148.96,313.29 148.96,314.37 150.61,313.34" fill="#000"/><text x="153.84" y="319.05" font-size="10" font-weight="bold">5</text>
<path d="M185 451.4V457" stroke="#000" stroke-width="1.55"/>
<text x="185" y="468.3" font-size="10" font-weight="bold" text-anchor="middle">LM</text>
<path d="M212.1 451.4V457" stroke="#000" stroke-width="1.55"/>
<text x="212.1" y="468.3" font-size="10" font-weight="bold" text-anchor="middle">MM</text>
<path d="M239.6 451.4V457" stroke="#000" stroke-width="1.55"/>
<text x="239.6" y="468.3" font-size="10" font-weight="bold" text-anchor="middle">HM</text>
<path d="M185 351V374.8M185 410V425M180.4 351H189.6M180.4 425H189.6" stroke="#000" stroke-width="1.9" fill="none"/>
<rect x="176.8" y="374.8" width="16.4" height="35.2" fill="#cde2f7" stroke="#000" stroke-width="1.9"/>
<path d="M176.8 396.4H193.2" stroke="#000" stroke-width="1.9"/>
<path d="M212.1 351.6V383.8M212.1 409.8V433.4M207.5 351.6H216.7M207.5 433.4H216.7" stroke="#000" stroke-width="1.9" fill="none"/>
<rect x="203.9" y="383.8" width="16.4" height="26" fill="#98c4f6" stroke="#000" stroke-width="1.9"/>
<path d="M203.9 399.9H220.3" stroke="#000" stroke-width="1.9"/>
<path d="M239.6 346.9V398M239.6 412.2V432M235 346.9H244.2M235 432H244.2" stroke="#000" stroke-width="1.9" fill="none"/>
<rect x="231.4" y="398" width="16.4" height="14.2" fill="#68a8fc" stroke="#000" stroke-width="1.9"/>
<path d="M231.4 407.7H247.8" stroke="#000" stroke-width="1.9"/>
<path d="M185.2 309.9V301.85H239.4V309.9" stroke="#000" stroke-width="1.25" fill="none"/>
<path d="M200.74 292.5L201.36 289.3L199.34 289.3L199.96 292.5ZM200.55 292.16L198.08 290.03L197.08 291.77L200.15 292.84ZM200.15 292.16L197.08 293.23L198.08 294.97L200.55 292.84ZM199.96 292.5L199.34 295.7L201.36 295.7L200.74 292.5ZM200.15 292.84L202.62 294.97L203.62 293.23L200.55 292.16ZM200.55 292.84L203.62 291.77L202.62 290.03L200.15 292.16ZM208.64 292.5L209.26 289.3L207.24 289.3L207.86 292.5ZM208.45 292.16L205.98 290.03L204.98 291.77L208.05 292.84ZM208.05 292.16L204.98 293.23L205.98 294.97L208.45 292.84ZM207.86 292.5L207.24 295.7L209.26 295.7L208.64 292.5ZM208.05 292.84L210.52 294.97L211.52 293.23L208.45 292.16ZM208.45 292.84L211.52 291.77L210.52 290.03L208.05 292.16ZM216.54 292.5L217.16 289.3L215.14 289.3L215.76 292.5ZM216.35 292.16L213.88 290.03L212.88 291.77L215.95 292.84ZM215.95 292.16L212.88 293.23L213.88 294.97L216.35 292.84ZM215.76 292.5L215.14 295.7L217.16 295.7L216.54 292.5ZM215.95 292.84L218.42 294.97L219.42 293.23L216.35 292.16ZM216.35 292.84L219.42 291.77L218.42 290.03L215.95 292.16ZM224.44 292.5L225.06 289.3L223.04 289.3L223.66 292.5ZM224.25 292.16L221.78 290.03L220.78 291.77L223.85 292.84ZM223.85 292.16L220.78 293.23L221.78 294.97L224.25 292.84ZM223.66 292.5L223.04 295.7L225.06 295.7L224.44 292.5ZM223.85 292.84L226.32 294.97L227.32 293.23L224.25 292.16ZM224.25 292.84L227.32 291.77L226.32 290.03L223.85 292.16Z" fill="#000"/>
<path d="M185.2 343.1V330.9H209.5V343.6" stroke="#000" stroke-width="1.25" fill="none"/>
<text x="197.4" y="323.7" font-size="10" text-anchor="middle" stroke="#000" stroke-width="0.25">ns</text>
<path d="M214.4 343.6V330.9H239.4V338.7" stroke="#000" stroke-width="1.25" fill="none"/>
<path d="M223.44 321.75L224.06 318.55L222.04 318.55L222.66 321.75ZM223.25 321.41L220.78 319.28L219.78 321.02L222.85 322.09ZM222.85 321.41L219.78 322.48L220.78 324.22L223.25 322.09ZM222.66 321.75L222.04 324.95L224.06 324.95L223.44 321.75ZM222.85 322.09L225.32 324.22L226.32 322.48L223.25 321.41ZM223.25 322.09L226.32 321.02L225.32 319.28L222.85 321.41ZM231.34 321.75L231.96 318.55L229.94 318.55L230.56 321.75ZM231.15 321.41L228.68 319.28L227.68 321.02L230.75 322.09ZM230.75 321.41L227.68 322.48L228.68 324.22L231.15 322.09ZM230.56 321.75L229.94 324.95L231.96 324.95L231.34 321.75ZM230.75 322.09L233.22 324.22L234.22 322.48L231.15 321.41ZM231.15 322.09L234.22 321.02L233.22 319.28L230.75 321.41Z" fill="#000"/>
<text x="212.1" y="486.7" font-size="12.9" font-weight="bold" text-anchor="middle">OD-CSV</text>
<text transform="translate(141 383.05) rotate(-90)" font-size="10.7" font-weight="bold" text-anchor="middle">mm<tspan font-size="8.2" dx="0" dy="-4.75">3</tspan></text>
<path d="M309.4 327.8V451.9" stroke="#000" stroke-width="1.55" fill="none"/>
<path d="M308.7 451.2H390" stroke="#000" stroke-width="1.55" fill="none"/>
<path d="M304.1 451.2H309.4" stroke="#000" stroke-width="1.55"/>
<text x="297.4" y="454.27" font-size="8.9" font-weight="bold">0</text>
<path d="M304.1 426.64H309.4" stroke="#000" stroke-width="1.55"/>
<text x="297.4" y="429.71" font-size="8.9" font-weight="bold">2</text>
<path d="M304.1 402.08H309.4" stroke="#000" stroke-width="1.55"/>
<text x="297.4" y="405.15" font-size="8.9" font-weight="bold">4</text>
<path d="M304.1 377.52H309.4" stroke="#000" stroke-width="1.55"/>
<text x="297.4" y="380.59" font-size="8.9" font-weight="bold">6</text>
<path d="M304.1 352.96H309.4" stroke="#000" stroke-width="1.55"/>
<text x="297.4" y="356.03" font-size="8.9" font-weight="bold">8</text>
<path d="M304.1 328.4H309.4" stroke="#000" stroke-width="1.55"/>
<polygon points="294.53,331.47 295.75,331.47 295.75,325.35 294.59,325.35 293.06,326.34 293.06,327.3 294.53,326.39" fill="#000"/><text x="297.4" y="331.47" font-size="8.9" font-weight="bold">0</text>
<path d="M325.8 451.2V456.2" stroke="#000" stroke-width="1.55"/>
<text x="325.8" y="466.2" font-size="9.2" font-weight="bold" text-anchor="middle">LM</text>
<path d="M350.5 451.2V456.2" stroke="#000" stroke-width="1.55"/>
<text x="350.5" y="466.2" font-size="9.2" font-weight="bold" text-anchor="middle">MM</text>
<path d="M375.1 451.2V456.2" stroke="#000" stroke-width="1.55"/>
<text x="375.1" y="466.2" font-size="9.2" font-weight="bold" text-anchor="middle">HM</text>
<path d="M325.8 336.6V378.8M325.8 415.95V436M321.4 336.6H330.2M321.4 436H330.2" stroke="#000" stroke-width="1.9" fill="none"/>
<rect x="318.45" y="378.8" width="14.7" height="37.15" fill="#cde2f7" stroke="#000" stroke-width="1.9"/>
<path d="M318.45 402.4H333.15" stroke="#000" stroke-width="1.9"/>
<path d="M350.5 352.3V384.8M350.5 417.6V434.8M346.1 352.3H354.9M346.1 434.8H354.9" stroke="#000" stroke-width="1.9" fill="none"/>
<rect x="343.15" y="384.8" width="14.7" height="32.8" fill="#98c4f6" stroke="#000" stroke-width="1.9"/>
<path d="M343.15 400.25H357.85" stroke="#000" stroke-width="1.9"/>
<path d="M375.1 356.6V401.7M375.1 420.1V432.9M370.7 356.6H379.5M370.7 432.9H379.5" stroke="#000" stroke-width="1.9" fill="none"/>
<rect x="367.75" y="401.7" width="14.7" height="18.4" fill="#68a8fc" stroke="#000" stroke-width="1.9"/>
<path d="M367.75 414.2H382.45" stroke="#000" stroke-width="1.9"/>
<path d="M325.6 302.8V295.6H375V302.8" stroke="#000" stroke-width="1.25" fill="none"/>
<path d="M343.05 287.1L343.59 284.35L341.81 284.35L342.35 287.1ZM342.87 286.8L340.76 284.95L339.87 286.5L342.53 287.4ZM342.53 286.8L339.87 287.7L340.76 289.25L342.87 287.4ZM342.35 287.1L341.81 289.85L343.59 289.85L343.05 287.1ZM342.53 287.4L344.64 289.25L345.53 287.7L342.87 286.8ZM342.87 287.4L345.53 286.5L344.64 284.95L342.53 286.8ZM350.55 287.1L351.09 284.35L349.31 284.35L349.85 287.1ZM350.37 286.8L348.26 284.95L347.37 286.5L350.03 287.4ZM350.03 286.8L347.37 287.7L348.26 289.25L350.37 287.4ZM349.85 287.1L349.31 289.85L351.09 289.85L350.55 287.1ZM350.03 287.4L352.14 289.25L353.03 287.7L350.37 286.8ZM350.37 287.4L353.03 286.5L352.14 284.95L350.03 286.8ZM358.05 287.1L358.59 284.35L356.81 284.35L357.35 287.1ZM357.87 286.8L355.76 284.95L354.87 286.5L357.53 287.4ZM357.53 286.8L354.87 287.7L355.76 289.25L357.87 287.4ZM357.35 287.1L356.81 289.85L358.59 289.85L358.05 287.1ZM357.53 287.4L359.64 289.25L360.53 287.7L357.87 286.8ZM357.87 287.4L360.53 286.5L359.64 284.95L357.53 286.8Z" fill="#000"/>
<path d="M325.6 329.2V321.9H348V345.2" stroke="#000" stroke-width="1.25" fill="none"/>
<text x="336.9" y="315.7" font-size="9" text-anchor="middle" stroke="#000" stroke-width="0.25">ns</text>
<path d="M352.8 345.2V321.9H375V348.9" stroke="#000" stroke-width="1.25" fill="none"/>
<path d="M360.5 313.35L361.04 310.6L359.26 310.6L359.8 313.35ZM360.32 313.05L358.21 311.2L357.32 312.75L359.98 313.65ZM359.98 313.05L357.32 313.95L358.21 315.5L360.32 313.65ZM359.8 313.35L359.26 316.1L361.04 316.1L360.5 313.35ZM359.98 313.65L362.09 315.5L362.98 313.95L360.32 313.05ZM360.32 313.65L362.98 312.75L362.09 311.2L359.98 313.05ZM368 313.35L368.54 310.6L366.76 310.6L367.3 313.35ZM367.82 313.05L365.71 311.2L364.82 312.75L367.48 313.65ZM367.48 313.05L364.82 313.95L365.71 315.5L367.82 313.65ZM367.3 313.35L366.76 316.1L368.54 316.1L368 313.35ZM367.48 313.65L369.59 315.5L370.48 313.95L367.82 313.05ZM367.82 313.65L370.48 312.75L369.59 311.2L367.48 313.05Z" fill="#000"/>
<text x="350.6" y="483.5" font-size="11.7" font-weight="bold" text-anchor="middle">TI-CSV</text>
<text transform="translate(285.6 389.5) rotate(-90)" font-size="10" font-weight="normal" text-anchor="middle" stroke="#000" stroke-width="0.35">mm<tspan font-size="7.3" dx="0.9" dy="-5.2">3</tspan></text>
<path d="M452.3 314.9V452" stroke="#000" stroke-width="1.55" fill="none"/>
<path d="M451.6 451.3H541.9" stroke="#000" stroke-width="1.55" fill="none"/>
<path d="M446.3 451.3H452.3" stroke="#000" stroke-width="1.55"/>
<text x="438.84" y="454.75" font-size="10" font-weight="bold">0</text>
<path d="M446.3 406.03H452.3" stroke="#000" stroke-width="1.55"/>
<text x="438.84" y="409.48" font-size="10" font-weight="bold">5</text>
<path d="M446.3 360.77H452.3" stroke="#000" stroke-width="1.55"/>
<polygon points="435.61,364.22 436.98,364.22 436.98,357.34 435.68,357.34 433.96,358.45 433.96,359.53 435.61,358.5" fill="#000"/><text x="438.84" y="364.22" font-size="10" font-weight="bold">0</text>
<path d="M446.3 315.5H452.3" stroke="#000" stroke-width="1.55"/>
<polygon points="435.61,318.95 436.98,318.95 436.98,312.07 435.68,312.07 433.96,313.19 433.96,314.27 435.61,313.24" fill="#000"/><text x="438.84" y="318.95" font-size="10" font-weight="bold">5</text>
<path d="M470.15 451.3V456.9" stroke="#000" stroke-width="1.55"/>
<text x="470.15" y="468.3" font-size="10" font-weight="bold" text-anchor="middle">LM</text>
<path d="M497.15 451.3V456.9" stroke="#000" stroke-width="1.55"/>
<text x="497.15" y="468.3" font-size="10" font-weight="bold" text-anchor="middle">MM</text>
<path d="M524.25 451.3V456.9" stroke="#000" stroke-width="1.55"/>
<text x="524.25" y="468.3" font-size="10" font-weight="bold" text-anchor="middle">HM</text>
<path d="M470.15 358.7V389.9M470.15 420.95V440.5M465.55 358.7H474.75M465.55 440.5H474.75" stroke="#000" stroke-width="1.9" fill="none"/>
<rect x="462.05" y="389.9" width="16.2" height="31.05" fill="#cde2f7" stroke="#000" stroke-width="1.9"/>
<path d="M462.05 411.85H478.25" stroke="#000" stroke-width="1.9"/>
<path d="M497.15 374.8V402.9M497.15 423.2V440.5M492.55 374.8H501.75M492.55 440.5H501.75" stroke="#000" stroke-width="1.9" fill="none"/>
<rect x="489.05" y="402.9" width="16.2" height="20.3" fill="#98c4f6" stroke="#000" stroke-width="1.9"/>
<path d="M489.05 413.6H505.25" stroke="#000" stroke-width="1.9"/>
<path d="M524.25 385V414.8M524.25 428V436.8M519.65 385H528.85M519.65 436.8H528.85" stroke="#000" stroke-width="1.9" fill="none"/>
<rect x="516.15" y="414.8" width="16.2" height="13.2" fill="#68a8fc" stroke="#000" stroke-width="1.9"/>
<path d="M516.15 423.05H532.35" stroke="#000" stroke-width="1.9"/>
<path d="M469.8 322.1V313.9H524.4V322.1" stroke="#000" stroke-width="1.25" fill="none"/>
<path d="M485.54 304.6L486.16 301.4L484.14 301.4L484.76 304.6ZM485.35 304.26L482.88 302.13L481.88 303.87L484.95 304.94ZM484.95 304.26L481.88 305.33L482.88 307.07L485.35 304.94ZM484.76 304.6L484.14 307.8L486.16 307.8L485.54 304.6ZM484.95 304.94L487.42 307.07L488.42 305.33L485.35 304.26ZM485.35 304.94L488.42 303.87L487.42 302.13L484.95 304.26ZM493.44 304.6L494.06 301.4L492.04 301.4L492.66 304.6ZM493.25 304.26L490.78 302.13L489.78 303.87L492.85 304.94ZM492.85 304.26L489.78 305.33L490.78 307.07L493.25 304.94ZM492.66 304.6L492.04 307.8L494.06 307.8L493.44 304.6ZM492.85 304.94L495.32 307.07L496.32 305.33L493.25 304.26ZM493.25 304.94L496.32 303.87L495.32 302.13L492.85 304.26ZM501.34 304.6L501.96 301.4L499.94 301.4L500.56 304.6ZM501.15 304.26L498.68 302.13L497.68 303.87L500.75 304.94ZM500.75 304.26L497.68 305.33L498.68 307.07L501.15 304.94ZM500.56 304.6L499.94 307.8L501.96 307.8L501.34 304.6ZM500.75 304.94L503.22 307.07L504.22 305.33L501.15 304.26ZM501.15 304.94L504.22 303.87L503.22 302.13L500.75 304.26ZM509.24 304.6L509.86 301.4L507.84 301.4L508.46 304.6ZM509.05 304.26L506.58 302.13L505.58 303.87L508.65 304.94ZM508.65 304.26L505.58 305.33L506.58 307.07L509.05 304.94ZM508.46 304.6L507.84 307.8L509.86 307.8L509.24 304.6ZM508.65 304.94L511.12 307.07L512.12 305.33L509.05 304.26ZM509.05 304.94L512.12 303.87L511.12 302.13L508.65 304.26Z" fill="#000"/>
<path d="M469.8 351.1V343.05H494.5V366.8" stroke="#000" stroke-width="1.25" fill="none"/>
<text x="482.55" y="335.9" font-size="10" text-anchor="middle" stroke="#000" stroke-width="0.25">ns</text>
<path d="M499.7 366.8V343.05H524.4V377.5" stroke="#000" stroke-width="1.25" fill="none"/>
<path d="M508.44 333.5L509.06 330.3L507.04 330.3L507.66 333.5ZM508.25 333.16L505.78 331.03L504.78 332.77L507.85 333.84ZM507.85 333.16L504.78 334.23L505.78 335.97L508.25 333.84ZM507.66 333.5L507.04 336.7L509.06 336.7L508.44 333.5ZM507.85 333.84L510.32 335.97L511.32 334.23L508.25 333.16ZM508.25 333.84L511.32 332.77L510.32 331.03L507.85 333.16ZM516.34 333.5L516.96 330.3L514.94 330.3L515.56 333.5ZM516.15 333.16L513.68 331.03L512.68 332.77L515.75 333.84ZM515.75 333.16L512.68 334.23L513.68 335.97L516.15 333.84ZM515.56 333.5L514.94 336.7L516.96 336.7L516.34 333.5ZM515.75 333.84L518.22 335.97L519.22 334.23L516.15 333.16ZM516.15 333.84L519.22 332.77L518.22 331.03L515.75 333.16Z" fill="#000"/>
<text x="497.3" y="486.2" font-size="12.9" font-weight="bold" text-anchor="middle">I-CSV</text>
<text transform="translate(426.6 383.2) rotate(-90)" font-size="10.7" font-weight="bold" text-anchor="middle">mm<tspan font-size="8.2" dx="0" dy="-4.75">3</tspan></text>
<path d="M593 325.4V451.9" stroke="#000" stroke-width="1.55" fill="none"/>
<path d="M592.3 451.2H676.5" stroke="#000" stroke-width="1.55" fill="none"/>
<path d="M587.6 451.2H593" stroke="#000" stroke-width="1.55"/>
<text x="580.38" y="454.37" font-size="9.2" font-weight="bold">0</text>
<path d="M587.6 419.9H593" stroke="#000" stroke-width="1.55"/>
<text x="580.38" y="423.07" font-size="9.2" font-weight="bold">2</text>
<path d="M587.6 388.6H593" stroke="#000" stroke-width="1.55"/>
<text x="580.38" y="391.77" font-size="9.2" font-weight="bold">4</text>
<path d="M587.6 357.3H593" stroke="#000" stroke-width="1.55"/>
<text x="580.38" y="360.47" font-size="9.2" font-weight="bold">6</text>
<path d="M587.6 326H593" stroke="#000" stroke-width="1.55"/>
<text x="580.38" y="329.17" font-size="9.2" font-weight="bold">8</text>
<path d="M609.5 451.2V456.2" stroke="#000" stroke-width="1.55"/>
<text x="609.5" y="466.2" font-size="9.3" font-weight="bold" text-anchor="middle">LM</text>
<path d="M634.75 451.2V456.2" stroke="#000" stroke-width="1.55"/>
<text x="634.75" y="466.2" font-size="9.3" font-weight="bold" text-anchor="middle">MM</text>
<path d="M660 451.2V456.2" stroke="#000" stroke-width="1.55"/>
<text x="660" y="466.2" font-size="9.3" font-weight="bold" text-anchor="middle">HM</text>
<path d="M609.5 341.1V362.05M609.5 404.1V432.6M605.1 341.1H613.9M605.1 432.6H613.9" stroke="#000" stroke-width="1.9" fill="none"/>
<rect x="602" y="362.05" width="15" height="42.05" fill="#cde2f7" stroke="#000" stroke-width="1.9"/>
<path d="M602 387.9H617" stroke="#000" stroke-width="1.9"/>
<path d="M634.75 336.6V373.7M634.75 408.9V431.4M630.35 336.6H639.15M630.35 431.4H639.15" stroke="#000" stroke-width="1.9" fill="none"/>
<rect x="627.25" y="373.7" width="15" height="35.2" fill="#98c4f6" stroke="#000" stroke-width="1.9"/>
<path d="M627.25 399.3H642.25" stroke="#000" stroke-width="1.9"/>
<path d="M660 354.7V389.8M660 413.2V429.2M655.6 354.7H664.4M655.6 429.2H664.4" stroke="#000" stroke-width="1.9" fill="none"/>
<rect x="652.5" y="389.8" width="15" height="23.4" fill="#68a8fc" stroke="#000" stroke-width="1.9"/>
<path d="M652.5 404.5H667.5" stroke="#000" stroke-width="1.9"/>
<path d="M609.6 302.9V295.2H660V302.9" stroke="#000" stroke-width="1.25" fill="none"/>
<path d="M623.5 287.25L624.04 284.5L622.26 284.5L622.8 287.25ZM623.32 286.95L621.21 285.1L620.32 286.65L622.98 287.55ZM622.98 286.95L620.32 287.85L621.21 289.4L623.32 287.55ZM622.8 287.25L622.26 290L624.04 290L623.5 287.25ZM622.98 287.55L625.09 289.4L625.98 287.85L623.32 286.95ZM623.32 287.55L625.98 286.65L625.09 285.1L622.98 286.95ZM631 287.25L631.54 284.5L629.76 284.5L630.3 287.25ZM630.82 286.95L628.71 285.1L627.82 286.65L630.48 287.55ZM630.48 286.95L627.82 287.85L628.71 289.4L630.82 287.55ZM630.3 287.25L629.76 290L631.54 290L631 287.25ZM630.48 287.55L632.59 289.4L633.48 287.85L630.82 286.95ZM630.82 287.55L633.48 286.65L632.59 285.1L630.48 286.95ZM638.5 287.25L639.04 284.5L637.26 284.5L637.8 287.25ZM638.32 286.95L636.21 285.1L635.32 286.65L637.98 287.55ZM637.98 286.95L635.32 287.85L636.21 289.4L638.32 287.55ZM637.8 287.25L637.26 290L639.04 290L638.5 287.25ZM637.98 287.55L640.09 289.4L640.98 287.85L638.32 286.95ZM638.32 287.55L640.98 286.65L640.09 285.1L637.98 286.95ZM646 287.25L646.54 284.5L644.76 284.5L645.3 287.25ZM645.82 286.95L643.71 285.1L642.82 286.65L645.48 287.55ZM645.48 286.95L642.82 287.85L643.71 289.4L645.82 287.55ZM645.3 287.25L644.76 290L646.54 290L646 287.25ZM645.48 287.55L647.59 289.4L648.48 287.85L645.82 286.95ZM645.82 287.55L648.48 286.65L647.59 285.1L645.48 286.95Z" fill="#000"/>
<path d="M609.6 334V321.8H632.5V329.9" stroke="#000" stroke-width="1.25" fill="none"/>
<text x="620.9" y="315.7" font-size="9" text-anchor="middle" stroke="#000" stroke-width="0.25">ns</text>
<path d="M637.1 329.9V321.8H660V348" stroke="#000" stroke-width="1.25" fill="none"/>
<path d="M644.9 313.5L645.44 310.75L643.66 310.75L644.2 313.5ZM644.72 313.2L642.61 311.35L641.72 312.9L644.38 313.8ZM644.38 313.2L641.72 314.1L642.61 315.65L644.72 313.8ZM644.2 313.5L643.66 316.25L645.44 316.25L644.9 313.5ZM644.38 313.8L646.49 315.65L647.38 314.1L644.72 313.2ZM644.72 313.8L647.38 312.9L646.49 311.35L644.38 313.2ZM652.4 313.5L652.94 310.75L651.16 310.75L651.7 313.5ZM652.22 313.2L650.11 311.35L649.22 312.9L651.88 313.8ZM651.88 313.2L649.22 314.1L650.11 315.65L652.22 313.8ZM651.7 313.5L651.16 316.25L652.94 316.25L652.4 313.5ZM651.88 313.8L653.99 315.65L654.88 314.1L652.22 313.2ZM652.22 313.8L654.88 312.9L653.99 311.35L651.88 313.2Z" fill="#000"/>
<text x="634.7" y="483.4" font-size="11.8" font-weight="bold" text-anchor="middle">NI-CSV</text>
<text transform="translate(574.5 388.5) rotate(-90)" font-size="10.1" font-weight="normal" text-anchor="middle" stroke="#000" stroke-width="0.35">mm<tspan font-size="7.8" dx="0.9" dy="-5">3</tspan></text>
</svg>
</body></html>
